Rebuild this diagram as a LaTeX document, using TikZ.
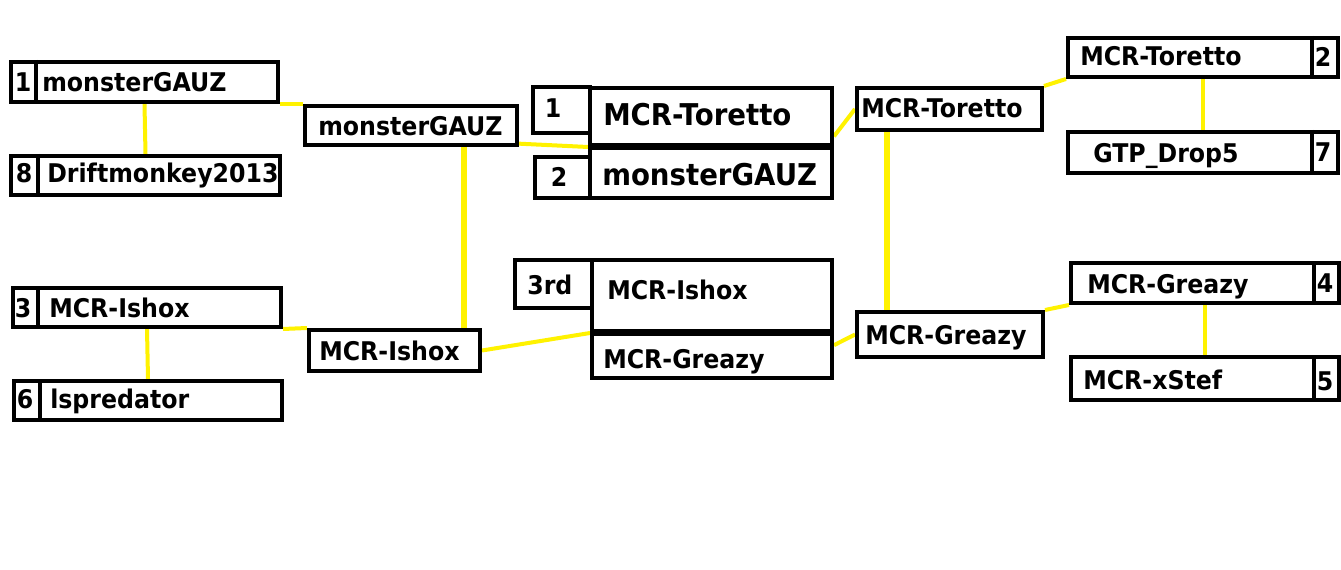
\documentclass[tikz,border=0pt]{standalone}
\usepackage{fontspec}
\setmainfont{DejaVu Sans}[FakeStretch=0.92]
\usepackage{tikz}
\usetikzlibrary{fit,calc,backgrounds}
\definecolor{paintYellow}{HTML}{FFF200}

\begin{document}
\begin{tikzpicture}[
  x=0.75pt,y=-0.75pt,
  font=\fontsize{19.3}{22}\selectfont\bfseries,
  slot/.style={draw,line width=3pt,inner sep=0pt,fit={#1}},
  txt/.style={anchor=base west,inner sep=0pt},
  seed/.style={anchor=base,inner sep=0pt},
  big/.style={font=\fontsize{22.5}{26}\selectfont\bfseries},
  link/.style={draw=paintYellow,line width=3pt},
  spine/.style={draw=paintYellow,line width=4.5pt}
]
\useasboundingbox (0,0) rectangle (1341,570);

% Round one, left side
\node[slot={(11,62)(278,102)}]    (a) {};
\node[slot={(11,156)(280,195)}]   (b) {};
\node[slot={(13,288)(281,327)}]   (c) {};
\node[slot={(14,381)(282,420)}]   (d) {};
% Round one, right side
\node[slot={(1068,38)(1338,77)}]  (i) {};
\node[slot={(1068,132)(1338,173)}] (j) {};
\node[slot={(1071,263)(1339,303)}] (k) {};
\node[slot={(1071,357)(1339,400)}] (l) {};
% Semifinals
\node[slot={(305,106)(517,145)}]  (e) {};
\node[slot={(309,330)(480,371)}]  (f) {};
\node[slot={(857,88)(1042,130)}]  (g) {};
\node[slot={(857,312)(1043,357)}] (h) {};
% Final
\node[slot={(533,87)(590,133)}]   (fs1) {};
\node[slot={(590,88)(832,145)}]   (ft) {};
\node[slot={(590,145)(832,198)}]  (fb) {};
\node[slot={(535,157)(590,198)}]  (fs2) {};
% Third place
\node[slot={(515,260)(592,308)}]  (ts) {};
\node[slot={(592,260)(832,331)}]  (ti) {};
\node[slot={(592,331)(832,378)}]  (tg) {};
\draw[line width=5pt] (ft.south west) -- (ft.south east);
\draw[line width=5pt] (ti.south west) -- (ti.south east);

% Seed columns
\foreach \b/\dx in {a/27,b/29,c/27,d/28}
  \draw[line width=3pt] ($(\b.north west)+(\dx,0)$) -- ($(\b.south west)+(\dx,0)$);
\foreach \b/\dx in {i/28,j/28,k/27,l/27}
  \draw[line width=3pt] ($(\b.north east)+(-\dx,0)$) -- ($(\b.south east)+(-\dx,0)$);

\node[seed] (a-s)   at (23,92)    {1};
\node[seed] (b-s)   at (24,183)   {8};
\node[seed] (c-s)   at (23,317)   {3};
\node[seed] (d-s)   at (25,408)   {6};
\node[seed] (i-s)   at (1323,67)  {2};
\node[seed] (j-s)   at (1323,162) {7};
\node[seed] (k-s)   at (1325,292) {4};
\node[seed] (l-s)   at (1325,390) {5};
\node[seed] (fs1-s) at (553,118)  {1};
\node[seed] (fs2-s) at (559,187)  {2};

% Players
\node[txt] (a-n)  at (42,92)    {monsterGAUZ};
\node[txt] (b-n)  at (47,183)   {Driftmonkey2013};
\node[txt] (c-n)  at (49,317)   {MCR-Ishox};
\node[txt] (d-n)  at (50,408)   {lspredator};
\node[txt] (e-n)  at (318,136)  {monsterGAUZ};
\node[txt] (f-n)  at (319,360)  {MCR-Ishox};
\node[txt] (g-n)  at (861,118)  {MCR-Toretto};
\node[txt] (h-n)  at (865,344)  {MCR-Greazy};
\node[txt] (i-n)  at (1080,66)  {MCR-Toretto};
\node[txt] (j-n)  at (1093,163) {GTP\_Drop5};
\node[txt] (k-n)  at (1087,293) {MCR-Greazy};
\node[txt] (l-n)  at (1083,389) {MCR-xStef};
\node[txt,big] (ft-n) at (603,126) {MCR-Toretto};
\node[txt,big] (fb-n) at (602,186) {monsterGAUZ};
\node[txt] (ts-n) at (527,294)  {3rd};
\node[txt] (ti-n) at (607,299)  {MCR-Ishox};
\node[txt] (tg-n) at (603,368)  {MCR-Greazy};

\coordinate (lspine) at (464,0);
\coordinate (rspine) at (887,0);

% Yellow connectors
\begin{scope}[on background layer]
\fill[white] (0,0) rectangle (1341,570);
\foreach \u/\v in {a/b,c/d,i/j,k/l}
  \draw[link] (\u.south) -- (\v.north);
\draw[link] (a.south east) -- (e.north west);
\draw[link] (c.south east) -- (f.north west);
\draw[link] (g.north east) -- (i.south west);
\draw[link] (h.north east) -- (k.south west);
\draw[link] ([yshift=2.5pt]e.south east) -- (ft.south west);
\draw[link] (f.east) -- (ti.south west);
\draw[link] ([yshift=8pt]ft.south east) -- (g.west);
\draw[link] ([yshift=7pt]tg.east) -- (h.west);
\draw[spine] (e.south -| lspine) -- (f.north -| lspine);
\draw[spine] (g.south -| rspine) -- (h.north -| rspine);
\end{scope}
\end{tikzpicture}
\end{document}
